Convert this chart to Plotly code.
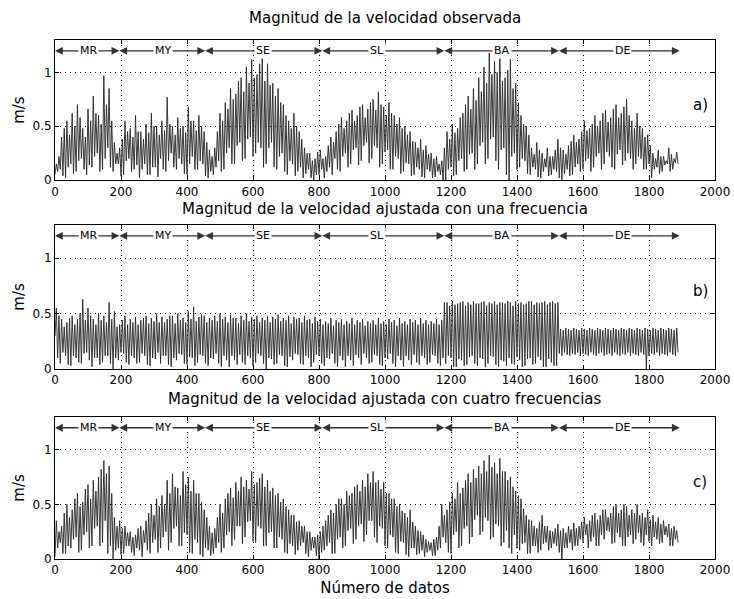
import plotly.graph_objects as go

# ---------------- data ----------------
# Each series is drawn as an alternating trough / peak sequence:
# trough j sits at data index 8j, peak j at data index 8j+4.
HALF_STEP = 4

peaks_a = [0.15, 0.22, 0.40, 0.48, 0.55, 0.42, 0.62, 0.50, 0.70, 0.58, 0.48, 0.40, 0.66, 0.55, 0.78, 0.62, 0.60, 0.52, 0.97, 0.70,
           0.85, 0.55, 0.35, 0.25, 0.30, 0.38, 0.55, 0.45, 0.48, 0.40, 0.60, 0.45, 0.45, 0.38, 0.52, 0.44, 0.62, 0.50, 0.50, 0.42,
           0.55, 0.46, 0.77, 0.52, 0.50, 0.42, 0.58, 0.48, 0.50, 0.44, 0.68, 0.55, 0.55, 0.46, 0.60, 0.50, 0.45, 0.35, 0.28, 0.22,
           0.30, 0.45, 0.62, 0.55, 0.72, 0.66, 0.85, 0.75, 0.80, 0.92, 0.95, 0.82, 1.05, 0.90, 1.12, 0.95, 0.98, 1.08, 1.15, 0.92,
           1.08, 0.88, 0.90, 0.78, 0.85, 0.72, 0.70, 0.60, 0.55, 0.48, 0.62, 0.50, 0.45, 0.38, 0.30, 0.25, 0.25, 0.18, 0.20, 0.26,
           0.28, 0.20, 0.22, 0.32, 0.40, 0.35, 0.45, 0.52, 0.58, 0.48, 0.55, 0.62, 0.65, 0.55, 0.60, 0.68, 0.70, 0.58, 0.66, 0.72,
           0.75, 0.65, 0.82, 0.70, 0.68, 0.60, 0.72, 0.62, 0.60, 0.52, 0.58, 0.48, 0.50, 0.42, 0.45, 0.36, 0.35, 0.30, 0.38, 0.28,
           0.32, 0.24, 0.25, 0.20, 0.22, 0.15, 0.18, 0.30, 0.45, 0.38, 0.52, 0.44, 0.48, 0.58, 0.62, 0.70, 0.78, 0.66, 0.85, 0.74,
           0.95, 0.82, 1.05, 0.90, 1.18, 0.98, 1.10, 1.00, 1.20, 0.92, 0.95, 1.02, 1.12, 0.85, 0.90, 0.72, 0.60, 0.52, 0.50, 0.42,
           0.30, 0.24, 0.35, 0.28, 0.25, 0.20, 0.30, 0.22, 0.22, 0.28, 0.38, 0.30, 0.28, 0.24, 0.32, 0.36, 0.42, 0.35, 0.38, 0.45,
           0.55, 0.46, 0.48, 0.52, 0.60, 0.50, 0.55, 0.62, 0.65, 0.54, 0.58, 0.66, 0.70, 0.58, 0.62, 0.68, 0.75, 0.60, 0.55, 0.48,
           0.62, 0.50, 0.48, 0.40, 0.42, 0.32, 0.25, 0.20, 0.28, 0.22, 0.22, 0.18, 0.30, 0.24, 0.20, 0.26]
troughs_a = [0.05, 0.08, 0.10, 0.04, 0.02, 0.12, 0.15, 0.06, 0.08, 0.18, 0.20, 0.10, 0.05, 0.14, 0.12, 0.22, 0.25, 0.08, 0.10, 0.20,
             0.30, 0.12, 0.08, 0.15, 0.15, 0.04, 0.05, 0.18, 0.20, 0.08, 0.10, 0.14, 0.02, 0.10, 0.15, 0.05, 0.05, 0.12, 0.12, 0.03,
             0.20, 0.10, 0.08, 0.18, 0.25, 0.12, 0.10, 0.20, 0.15, 0.06, 0.05, 0.15, 0.22, 0.10, 0.10, 0.18, 0.15, 0.04, 0.02, 0.08,
             0.05, 0.12, 0.18, 0.08, 0.10, 0.25, 0.30, 0.15, 0.15, 0.32, 0.35, 0.18, 0.20, 0.38, 0.40, 0.22, 0.25, 0.35, 0.30, 0.12,
             0.15, 0.30, 0.35, 0.12, 0.10, 0.22, 0.25, 0.08, 0.05, 0.18, 0.15, 0.04, 0.08, 0.12, 0.02, 0.06, 0.10, 0.02, 0.00, 0.05,
             0.05, 0.10, 0.02, 0.08, 0.12, 0.05, 0.20, 0.10, 0.08, 0.22, 0.25, 0.12, 0.15, 0.28, 0.30, 0.14, 0.18, 0.32, 0.35, 0.16,
             0.20, 0.32, 0.30, 0.12, 0.15, 0.26, 0.28, 0.10, 0.10, 0.22, 0.20, 0.06, 0.08, 0.16, 0.15, 0.04, 0.05, 0.12, 0.10, 0.03,
             0.02, 0.10, 0.08, 0.02, 0.03, 0.08, 0.05, 0.00, 0.00, 0.10, 0.12, 0.04, 0.05, 0.18, 0.20, 0.08, 0.10, 0.24, 0.25, 0.10,
             0.15, 0.32, 0.35, 0.15, 0.20, 0.38, 0.40, 0.18, 0.10, 0.28, 0.30, 0.05, 0.00, 0.22, 0.25, 0.10, 0.12, 0.20, 0.18, 0.06,
             0.05, 0.12, 0.10, 0.03, 0.02, 0.08, 0.12, 0.04, 0.05, 0.10, 0.08, 0.02, 0.00, 0.06, 0.10, 0.04, 0.05, 0.12, 0.15, 0.08,
             0.10, 0.18, 0.20, 0.08, 0.12, 0.22, 0.25, 0.10, 0.15, 0.26, 0.22, 0.12, 0.10, 0.24, 0.28, 0.14, 0.18, 0.25, 0.20, 0.10,
             0.15, 0.22, 0.20, 0.10, 0.10, 0.15, 0.02, 0.10, 0.12, 0.06, 0.08, 0.14, 0.15, 0.08, 0.10, 0.16, 0.15]

peaks_b = [0.55, 0.48, 0.45, 0.38, 0.42, 0.46, 0.48, 0.40, 0.45, 0.50, 0.63, 0.44, 0.55, 0.48, 0.45, 0.40, 0.50, 0.44, 0.48, 0.42,
           0.60, 0.45, 0.52, 0.38, 0.40, 0.44, 0.48, 0.40, 0.45, 0.42, 0.47, 0.40, 0.44, 0.46, 0.48, 0.41, 0.46, 0.43, 0.50, 0.42,
           0.47, 0.42, 0.45, 0.48, 0.48, 0.41, 0.50, 0.44, 0.46, 0.42, 0.52, 0.45, 0.56, 0.43, 0.47, 0.49, 0.48, 0.42, 0.46, 0.44,
           0.48, 0.43, 0.50, 0.45, 0.47, 0.42, 0.49, 0.46, 0.46, 0.41, 0.48, 0.44, 0.50, 0.43, 0.47, 0.45, 0.48, 0.42, 0.46, 0.44,
           0.48, 0.42, 0.47, 0.45, 0.49, 0.43, 0.46, 0.44, 0.48, 0.41, 0.47, 0.45, 0.46, 0.42, 0.48, 0.44, 0.45, 0.41, 0.47, 0.43,
           0.45, 0.40, 0.43, 0.41, 0.46, 0.39, 0.44, 0.42, 0.45, 0.40, 0.43, 0.41, 0.46, 0.40, 0.44, 0.42, 0.45, 0.39, 0.43, 0.41,
           0.44, 0.40, 0.46, 0.41, 0.43, 0.40, 0.45, 0.42, 0.44, 0.39, 0.46, 0.41, 0.43, 0.40, 0.45, 0.42, 0.44, 0.40, 0.46, 0.41,
           0.44, 0.40, 0.43, 0.41, 0.45, 0.40, 0.44, 0.60, 0.60, 0.57, 0.61, 0.58, 0.59, 0.60, 0.61, 0.57, 0.60, 0.58, 0.61, 0.59,
           0.59, 0.60, 0.61, 0.57, 0.60, 0.59, 0.61, 0.58, 0.60, 0.60, 0.59, 0.61, 0.60, 0.57, 0.61, 0.59, 0.60, 0.58, 0.59, 0.61,
           0.61, 0.58, 0.60, 0.59, 0.60, 0.61, 0.58, 0.60, 0.61, 0.59, 0.60, 0.36, 0.35, 0.37, 0.36, 0.35, 0.37, 0.36, 0.35, 0.37,
           0.36, 0.35, 0.37, 0.36, 0.35, 0.37, 0.36, 0.35, 0.37, 0.36, 0.35, 0.37, 0.36, 0.35, 0.37, 0.36, 0.35, 0.37, 0.36, 0.35,
           0.37, 0.36, 0.35, 0.37, 0.36, 0.35, 0.37, 0.36, 0.35, 0.37, 0.36, 0.35, 0.37, 0.36, 0.35, 0.37]
troughs_b = [0.30, 0.10, 0.05, 0.15, 0.12, 0.04, 0.03, 0.12, 0.10, 0.06, 0.05, 0.14, 0.15, 0.08, 0.02, 0.10, 0.10, 0.04, 0.06, 0.12,
             0.12, 0.05, 0.00, 0.10, 0.08, 0.15, 0.14, 0.06, 0.04, 0.12, 0.10, 0.05, 0.06, 0.14, 0.12, 0.04, 0.03, 0.10, 0.09, 0.15,
             0.05, 0.12, 0.12, 0.04, 0.02, 0.10, 0.08, 0.14, 0.13, 0.05, 0.04, 0.11, 0.10, 0.03, 0.06, 0.13, 0.12, 0.05, 0.03, 0.10,
             0.09, 0.14, 0.05, 0.02, 0.12, 0.08, 0.02, 0.12, 0.08, 0.04, 0.13, 0.06, 0.04, 0.12, 0.10, 0.03, 0.06, 0.14, 0.12, 0.05,
             0.00, 0.10, 0.09, 0.04, 0.05, 0.13, 0.12, 0.03, 0.02, 0.11, 0.08, 0.14, 0.13, 0.05, 0.04, 0.12, 0.10, 0.02, 0.06, 0.13,
             0.12, 0.05, 0.03, 0.10, 0.09, 0.14, 0.05, 0.02, 0.12, 0.08, 0.02, 0.12, 0.08, 0.03, 0.13, 0.10, 0.04, 0.14, 0.10, 0.05,
             0.06, 0.13, 0.12, 0.04, 0.03, 0.10, 0.09, 0.14, 0.05, 0.02, 0.12, 0.08, 0.02, 0.12, 0.08, 0.04, 0.13, 0.06, 0.04, 0.12,
             0.10, 0.04, 0.06, 0.13, 0.12, 0.05, 0.03, 0.10, 0.05, 0.12, 0.10, 0.02, 0.02, 0.09, 0.08, 0.03, 0.04, 0.11, 0.12, 0.05,
             0.03, 0.10, 0.09, 0.02, 0.05, 0.12, 0.11, 0.04, 0.02, 0.08, 0.07, 0.03, 0.10, 0.05, 0.04, 0.11, 0.08, 0.02, 0.03, 0.09,
             0.10, 0.04, 0.05, 0.11, 0.08, 0.02, 0.02, 0.09, 0.06, 0.03, 0.03, 0.14, 0.12, 0.15, 0.13, 0.12, 0.14, 0.13, 0.15, 0.12,
             0.14, 0.13, 0.12, 0.15, 0.13, 0.12, 0.14, 0.15, 0.12, 0.13, 0.14, 0.12, 0.15, 0.13, 0.12, 0.14, 0.13, 0.15, 0.12, 0.14,
             0.13, 0.12, 0.15, 0.13, 0.00, 0.12, 0.14, 0.13, 0.15, 0.12, 0.14, 0.13, 0.12, 0.15, 0.13, 0.12, 0.15]

peaks_c = [0.35, 0.25, 0.30, 0.42, 0.50, 0.38, 0.45, 0.55, 0.60, 0.48, 0.52, 0.64, 0.68, 0.55, 0.72, 0.62, 0.75, 0.82, 0.90, 0.78,
           0.85, 0.60, 0.38, 0.30, 0.35, 0.28, 0.30, 0.24, 0.25, 0.20, 0.22, 0.28, 0.30, 0.26, 0.35, 0.42, 0.50, 0.40, 0.55, 0.48,
           0.58, 0.50, 0.72, 0.60, 0.78, 0.66, 0.65, 0.58, 0.80, 0.68, 0.75, 0.62, 0.72, 0.60, 0.60, 0.52, 0.45, 0.38, 0.30, 0.24,
           0.28, 0.38, 0.50, 0.42, 0.55, 0.60, 0.65, 0.56, 0.70, 0.62, 0.75, 0.66, 0.72, 0.64, 0.80, 0.68, 0.70, 0.74, 0.78, 0.66,
           0.72, 0.62, 0.65, 0.58, 0.60, 0.52, 0.55, 0.48, 0.45, 0.40, 0.40, 0.34, 0.35, 0.30, 0.30, 0.25, 0.25, 0.20, 0.20, 0.22,
           0.25, 0.30, 0.35, 0.40, 0.45, 0.42, 0.50, 0.55, 0.55, 0.50, 0.62, 0.58, 0.60, 0.66, 0.68, 0.62, 0.72, 0.66, 0.78, 0.70,
           0.80, 0.70, 0.72, 0.64, 0.70, 0.60, 0.60, 0.55, 0.55, 0.48, 0.50, 0.44, 0.42, 0.38, 0.45, 0.34, 0.30, 0.26, 0.25, 0.22,
           0.18, 0.16, 0.15, 0.18, 0.20, 0.30, 0.50, 0.40, 0.45, 0.52, 0.60, 0.55, 0.70, 0.60, 0.65, 0.72, 0.78, 0.70, 0.82, 0.74,
           0.85, 0.78, 0.90, 0.80, 0.95, 0.84, 0.88, 0.78, 0.92, 0.80, 0.80, 0.72, 0.75, 0.66, 0.62, 0.58, 0.55, 0.46, 0.40, 0.36,
           0.35, 0.30, 0.28, 0.34, 0.40, 0.30, 0.30, 0.26, 0.25, 0.28, 0.32, 0.26, 0.28, 0.24, 0.30, 0.27, 0.33, 0.28, 0.30, 0.34,
           0.38, 0.32, 0.35, 0.40, 0.42, 0.36, 0.40, 0.45, 0.45, 0.38, 0.42, 0.48, 0.50, 0.42, 0.45, 0.50, 0.48, 0.40, 0.45, 0.42,
           0.50, 0.40, 0.42, 0.38, 0.45, 0.36, 0.40, 0.34, 0.38, 0.32, 0.35, 0.30, 0.32, 0.28, 0.30, 0.26]
troughs_c = [0.02, 0.10, 0.15, 0.05, 0.05, 0.12, 0.10, 0.18, 0.20, 0.06, 0.08, 0.22, 0.25, 0.10, 0.12, 0.28, 0.30, 0.12, 0.15, 0.35,
             0.05, 0.12, 0.00, 0.08, 0.10, 0.04, 0.05, 0.12, 0.12, 0.06, 0.03, 0.10, 0.08, 0.02, 0.15, 0.08, 0.05, 0.15, 0.18, 0.06,
             0.10, 0.20, 0.25, 0.08, 0.15, 0.28, 0.30, 0.12, 0.12, 0.24, 0.22, 0.06, 0.05, 0.18, 0.15, 0.04, 0.02, 0.10, 0.08, 0.03,
             0.05, 0.10, 0.15, 0.06, 0.10, 0.22, 0.25, 0.12, 0.18, 0.30, 0.30, 0.14, 0.20, 0.34, 0.35, 0.16, 0.15, 0.30, 0.28, 0.12,
             0.12, 0.24, 0.25, 0.10, 0.10, 0.20, 0.18, 0.06, 0.05, 0.14, 0.12, 0.04, 0.08, 0.12, 0.15, 0.05, 0.02, 0.08, 0.10, 0.03,
             0.00, 0.06, 0.08, 0.12, 0.15, 0.05, 0.05, 0.18, 0.20, 0.10, 0.12, 0.26, 0.28, 0.14, 0.18, 0.30, 0.32, 0.16, 0.22, 0.35,
             0.35, 0.20, 0.15, 0.30, 0.28, 0.12, 0.10, 0.22, 0.20, 0.06, 0.05, 0.16, 0.15, 0.04, 0.02, 0.10, 0.10, 0.04, 0.05, 0.08,
             0.02, 0.06, 0.08, 0.03, 0.03, 0.08, 0.10, 0.20, 0.15, 0.06, 0.05, 0.22, 0.25, 0.10, 0.12, 0.28, 0.30, 0.14, 0.20, 0.36,
             0.40, 0.22, 0.25, 0.38, 0.35, 0.18, 0.20, 0.32, 0.30, 0.12, 0.15, 0.26, 0.10, 0.05, 0.22, 0.10, 0.08, 0.14, 0.15, 0.05,
             0.05, 0.12, 0.12, 0.06, 0.08, 0.14, 0.15, 0.08, 0.10, 0.14, 0.12, 0.06, 0.00, 0.10, 0.10, 0.15, 0.08, 0.12, 0.12, 0.18,
             0.15, 0.22, 0.10, 0.16, 0.20, 0.12, 0.12, 0.22, 0.18, 0.26, 0.25, 0.14, 0.15, 0.24, 0.20, 0.12, 0.12, 0.20, 0.22, 0.14,
             0.18, 0.24, 0.15, 0.12, 0.22, 0.16, 0.12, 0.20, 0.18, 0.14, 0.15, 0.22, 0.20, 0.12, 0.12, 0.18, 0.15]

titles = ["Magnitud de la velocidad observada",
          "Magnitud de la velocidad ajustada con una frecuencia",
          "Magnitud de la velocidad ajustada con cuatro frecuencias"]
panel_tags = ["a)", "b)", "c)"]

# month segments: (start, end, label)
month_starts = [0, 195, 455, 810, 1180, 1527]
month_ends = [195, 455, 810, 1180, 1527, 1893]
month_labels = ["MR", "MY", "SE", "SL", "BA", "DE"]
month_label_pos = [100, 328, 630, 975, 1355, 1720]

x_ticks = list(range(0, 2001, 200))
y_ticks = [0, 0.5, 1]
y_tick_text = ["0", "0.5", "1"]

# ---------------- figure ----------------
FONT = "DejaVu Sans, Liberation Sans, Arial, sans-serif"
domains = [[0.730, 1.0], [0.366, 0.644], [0.0, 0.274]]
title_y = [1.042, 0.674, 0.308]
series = [(peaks_a, troughs_a), (peaks_b, troughs_b), (peaks_c, troughs_c)]

fig = go.Figure()
annotations = []

for i, (pk, tr) in enumerate(series):
    xs, ys = [], []
    n_pairs = min(len(pk), len(tr))
    for k in range(n_pairs):
        xs += [2 * HALF_STEP * k, 2 * HALF_STEP * k + HALF_STEP]
        ys += [tr[k], pk[k]]
    if len(tr) > n_pairs:
        xs.append(2 * HALF_STEP * n_pairs)
        ys.append(tr[n_pairs])
    n = "" if i == 0 else str(i + 1)
    xa, ya = "x" + n, "y" + n
    fig.add_trace(go.Scatter(x=xs, y=ys, mode="lines", xaxis=xa, yaxis=ya,
                             line=dict(color="#262626", width=0.9),
                             showlegend=False, hoverinfo="skip"))
    axis_common = dict(showline=True, linecolor="black", linewidth=1,
                       mirror="ticks", ticks="inside", ticklen=4,
                       tickcolor="black", showgrid=True, gridcolor="#000000",
                       gridwidth=1, griddash="1px,4px", zeroline=False,
                       automargin=False,
                       tickfont=dict(family=FONT, size=12, color="black"))
    fig.update_layout(**{
        ("xaxis" + n): dict(axis_common, domain=[0, 1], range=[0, 2000],
                            tickvals=x_ticks, anchor=ya,
                            title=dict(text="Número de datos" if i == 2 else "",
                                       font=dict(family=FONT, size=15, color="black"),
                                       standoff=6)),
        ("yaxis" + n): dict(axis_common, domain=domains[i], range=[0, 1.3],
                            tickvals=y_ticks, ticktext=y_tick_text, anchor=xa,
                            title=dict(text="m/s",
                                       font=dict(family=FONT, size=15, color="black"),
                                       standoff=4)),
    })
    annotations.append(dict(text=titles[i], xref="paper", yref="paper",
                            x=0.5, y=title_y[i], showarrow=False,
                            xanchor="center", yanchor="middle",
                            font=dict(family=FONT, size=15, color="black")))
    annotations.append(dict(text=panel_tags[i], xref=xa, yref=ya,
                            x=1955, y=0.70, showarrow=False,
                            font=dict(family=FONT, size=15, color="black")))
    for s, e, lab, c in zip(month_starts, month_ends, month_labels, month_label_pos):
        for end in (s, e):
            annotations.append(dict(text="", xref=xa, yref=ya, x=end, y=1.2,
                                    axref=xa, ayref=ya, ax=c, ay=1.2,
                                    showarrow=True, arrowhead=2, arrowsize=1.2,
                                    arrowwidth=1.3, arrowcolor="#333333"))
        annotations.append(dict(text=lab, xref=xa, yref=ya, x=c, y=1.2,
                                showarrow=False, bgcolor="white", borderpad=1,
                                font=dict(family=FONT, size=11, color="black")))

fig.update_layout(width=734, height=599,
                  margin=dict(l=55, r=19, t=40, b=40),
                  paper_bgcolor="white", plot_bgcolor="white",
                  annotations=annotations)

fig.write_html("out.html")
